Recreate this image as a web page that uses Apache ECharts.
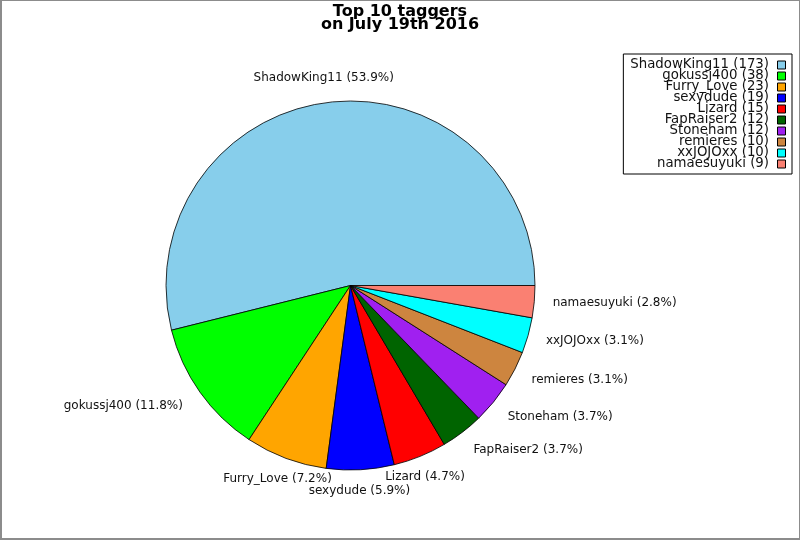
<!DOCTYPE html>
<html>
<head>
<meta charset="utf-8">
<script src="https://cdn.jsdelivr.net/npm/echarts@6/dist/echarts.min.js"></script>
<style>
  html, body { margin: 0; padding: 0; background: #fff; }
  #wrap { position: relative; width: 800px; height: 540px; }
  #chart { position: absolute; left: 0; top: 0; width: 800px; height: 540px; }
  #frame { position: absolute; left: 0; top: 0; width: 800px; height: 540px; box-sizing: border-box;
           border-top: 1px solid #8c8c8c; border-right: 1px solid #8c8c8c;
           border-left: 2px solid #8c8c8c; border-bottom: 2px solid #8c8c8c; pointer-events: none; }
</style>
</head>
<body>
<div id="wrap"><div id="chart"></div><div id="frame"></div></div>
<script>
const titleText = 'Top 10 taggers\non July 19th 2016';
const names = ['ShadowKing11', 'gokussj400', 'Furry_Love', 'sexydude', 'Lizard', 'FapRaiser2', 'Stoneham', 'remieres', 'xxJOJOxx', 'namaesuyuki'];
const counts = [173, 38, 23, 19, 15, 12, 12, 10, 10, 9];
const colors = ['#87CEEB', '#00FF00', '#FFA500', '#0000FF', '#FF0000', '#006400', '#A020F0', '#CD853F', '#00FFFF', '#FA8072'];

const CX = 350.5, CY = 285.5, RAD = 184.5, LABEL_R = RAD * 1.1;
const total = counts.reduce((a, b) => a + b, 0);
const countOf = {};
names.forEach((n, i) => { countOf[n] = counts[i]; });

// mid angles (counterclockwise from east, start 0)
const midAngles = [];
let cum = 0;
counts.forEach(v => { midAngles.push((cum + v / 2) / total * 2 * Math.PI); cum += v; });

const chart = echarts.init(document.getElementById('chart'), null, { renderer: 'canvas' });
const FONT = '"DejaVu Sans", sans-serif';

chart.setOption({
  animation: false,
  backgroundColor: '#fff',
  title: {
    text: titleText,
    left: 'center',
    top: 6,
    padding: 0,
    textStyle: { fontFamily: FONT, fontSize: 16, fontWeight: 'bold', color: '#000', lineHeight: 12.5 }
  },
  legend: {
    orient: 'vertical',
    right: 8,
    top: 54,
    align: 'right',
    icon: 'rect',
    itemWidth: 8,
    itemHeight: 8,
    itemGap: -2,
    padding: [4.5, 6, 3.5, 7],
    borderColor: '#000',
    borderWidth: 1,
    selectedMode: false,
    data: names,
    formatter: name => name + ' (' + countOf[name] + ')',
    itemStyle: { borderColor: '#000', borderWidth: 1 },
    textStyle: { fontFamily: FONT, fontSize: 13.3, color: '#111', lineHeight: 11, padding: [0, 3.5, 0, 0] }
  },
  series: [{
    type: 'pie',
    center: [CX, CY],
    radius: RAD,
    startAngle: 0,
    clockwise: false,
    avoidLabelOverlap: false,
    silent: true,
    emphasis: { disabled: true },
    color: colors,
    itemStyle: { borderColor: '#000', borderWidth: 0.8 },
    label: {
      show: true,
      position: 'outside',
      fontFamily: FONT,
      fontSize: 12,
      color: '#111',
      formatter: p => p.name + ' (' + (p.value / total * 100).toFixed(1) + '%)'
    },
    labelLine: { show: false, length: 19, length2: 0 },
    labelLayout: function (params) {
      const a = midAngles[params.dataIndex];
      const c = Math.cos(a), s = Math.sin(a);
      let x = CX + LABEL_R * c;
      let y = CY - LABEL_R * s;
      const align = Math.abs(c) < 0.5 ? 'center' : (c > 0 ? 'left' : 'right');
      if (align !== 'left') { x -= 2; }
      let va = 'middle';
      if (s > 0.5) { va = 'bottom'; } else if (s < -0.3) { y += 3; }
      return { x: x, y: y, align: align, verticalAlign: va };
    },
    data: names.map((n, i) => ({ name: n, value: counts[i] }))
  }]
});
</script>
</body>
</html>
